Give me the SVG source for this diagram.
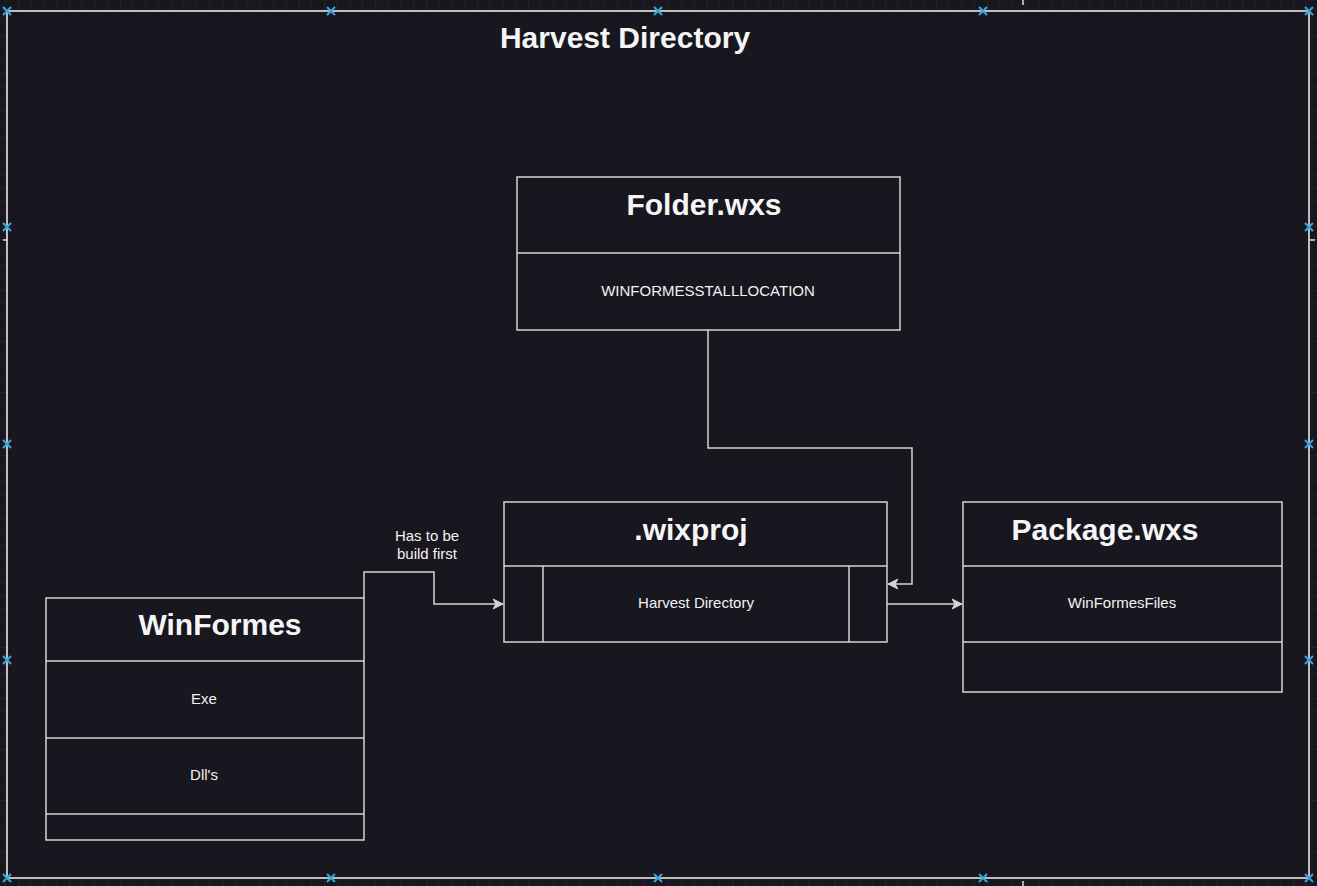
<svg xmlns="http://www.w3.org/2000/svg" width="1317" height="886" viewBox="0 0 1317 886">
<defs>
<style>
.bg{fill:#18161e}
.box{fill:#18161e;stroke:#d4d4d4;stroke-width:1.5}
.ln{fill:none;stroke:#d4d4d4;stroke-width:1.5}
.title{font-family:"Liberation Sans",Arial,sans-serif;font-weight:bold;font-size:30px;fill:#f5f5f5;text-anchor:middle}
.txt{font-family:"Liberation Sans",Arial,sans-serif;font-size:15px;fill:#f2f2f2;text-anchor:middle}
.mk{stroke:#3ba4dc;stroke-width:2;fill:none}
.tick{stroke:#e0e0e0;stroke-width:1.5}
</style>
<pattern id="grid" patternUnits="userSpaceOnUse" x="18.3" y="35" width="51" height="51">
<rect width="51" height="51" fill="#18161e"/>
<path d="M12.75 0V51M25.5 0V51M38.25 0V51M0 12.75H51M0 25.5H51M0 38.25H51" stroke="#211f28" stroke-width="1"/>
<path d="M0 0V51M0 0H51" stroke="#34323a" stroke-width="1"/>
</pattern>
<marker id="arr" markerWidth="12" markerHeight="12" refX="10" refY="5" orient="auto" markerUnits="userSpaceOnUse" viewBox="0 0 12 10">
<path d="M0 0L10 5L0 10L3 5Z" fill="#d4d4d4" stroke="#d4d4d4" stroke-width="1"/>
</marker>
<g id="x"><path d="M-4 -4L4 4M-4 4L4 -4"/></g>
</defs>
<rect width="1317" height="886" fill="url(#grid)"/>
<g id="frame">
<rect x="7" y="11" width="1302" height="867" fill="#18161e" stroke="#bdbdbd" stroke-width="2"/>
<text class="title" x="625" y="48">Harvest Directory</text>
</g>
<g id="ticks">
<line class="tick" x1="1023" y1="0" x2="1023" y2="5"/>
<line class="tick" x1="1023" y1="881" x2="1023" y2="886"/>
<line class="tick" x1="3" y1="240" x2="7" y2="240"/>
<line class="tick" x1="1310" y1="240" x2="1315" y2="240"/>
</g>
<g id="markers" class="mk">
<use href="#x" x="7" y="11"/><use href="#x" x="331" y="11"/><use href="#x" x="658" y="11"/><use href="#x" x="983" y="11"/><use href="#x" x="1309" y="11"/>
<use href="#x" x="7" y="878"/><use href="#x" x="331" y="878"/><use href="#x" x="658" y="878"/><use href="#x" x="983" y="878"/><use href="#x" x="1309" y="878"/>
<use href="#x" x="7" y="227"/><use href="#x" x="7" y="444"/><use href="#x" x="7" y="660"/>
<use href="#x" x="1309" y="227"/><use href="#x" x="1309" y="444"/><use href="#x" x="1309" y="660"/>
</g>
<g id="connectors">
<path class="ln" d="M708 330V448H912V584H888" marker-end="url(#arr)"/>
<path class="ln" d="M364 598V572H434V604H503" marker-end="url(#arr)"/>
<path class="ln" d="M887 604H962" marker-end="url(#arr)"/>
<text class="txt" x="427" y="541">Has to be</text>
<text class="txt" x="427" y="559">build first</text>
</g>
<g id="folder">
<rect class="box" x="517" y="177" width="383" height="153"/>
<line class="ln" x1="517" y1="253" x2="900" y2="253"/>
<text class="title" x="704" y="215">Folder.wxs</text>
<text class="txt" x="708" y="296">WINFORMESSTALLLOCATION</text>
</g>
<g id="wixproj">
<rect class="box" x="504" y="502" width="383" height="140"/>
<line class="ln" x1="504" y1="566" x2="887" y2="566"/>
<line class="ln" x1="543" y1="566" x2="543" y2="642"/>
<line class="ln" x1="849" y1="566" x2="849" y2="642"/>
<text class="title" x="691" y="540">.wixproj</text>
<text class="txt" x="696" y="608">Harvest Directory</text>
</g>
<g id="package">
<rect class="box" x="963" y="502" width="319" height="190"/>
<line class="ln" x1="963" y1="566" x2="1282" y2="566"/>
<line class="ln" x1="963" y1="642" x2="1282" y2="642"/>
<text class="title" x="1105" y="540">Package.wxs</text>
<text class="txt" x="1122" y="608">WinFormesFiles</text>
</g>
<g id="winformes">
<rect class="box" x="46" y="598" width="318" height="242"/>
<line class="ln" x1="46" y1="661" x2="364" y2="661"/>
<line class="ln" x1="46" y1="738" x2="364" y2="738"/>
<line class="ln" x1="46" y1="814" x2="364" y2="814"/>
<text class="title" x="220" y="635">WinFormes</text>
<text class="txt" x="204" y="704">Exe</text>
<text class="txt" x="204" y="780">Dll's</text>
</g>
</svg>
